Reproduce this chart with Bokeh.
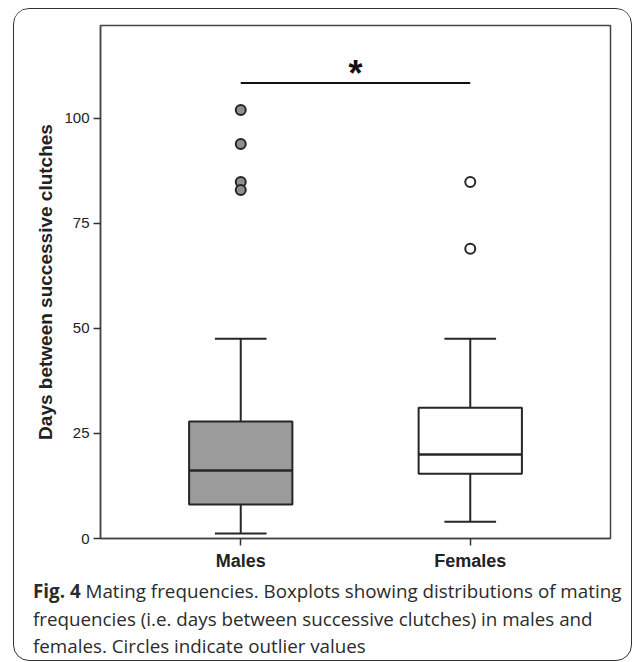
from bokeh.plotting import figure
from bokeh.layouts import column
from bokeh.models import InlineStyleSheet, Div, FixedTicker, Range1d
from bokeh.core.properties import value
from bokeh.embed import file_html
from bokeh.resources import INLINE

# ---- data ----
categories = ["Males", "Females"]
q1 = [8.1, 15.4]
median = [16.2, 20.0]
q3 = [27.8, 31.1]
lower_whisker = [1.2, 4.0]
upper_whisker = [47.5, 47.5]
outliers_males = [101.9, 93.8, 84.8, 82.9]
outliers_females = [84.8, 68.9]
y_ticks = [0, 25, 50, 75, 100]
sig_level = 108.3
sig_label = "*"
y_label = "Days between successive clutches"
caption_bold = "Fig. 4"
caption_lines = [
    "Mating frequencies. Boxplots showing distributions of mating",
    "frequencies (i.e. days between successive clutches) in males and",
    "females. Circles indicate outlier values",
]

# ---- styling ----
LINE = "#262626"
xs = [i + 1 for i in range(len(categories))]
box_w = 0.45
cap_w = 0.225

p = figure(width=616, height=564, output_backend="svg", toolbar_location=None,
           x_range=Range1d(0.389, 2.611), y_range=Range1d(0, 122),
           min_border_left=86, min_border_right=20, min_border_top=16,
           min_border_bottom=35)
p.grid.visible = False
p.outline_line_color = "#444444"
p.outline_line_width = 1.5
p.background_fill_color = "white"
p.border_fill_color = "white"

# axes
p.yaxis.ticker = FixedTicker(ticks=y_ticks)
p.xaxis.ticker = FixedTicker(ticks=xs)
p.xaxis.major_label_overrides = {x: c for x, c in zip(xs, categories)}
for ax in (p.xaxis, p.yaxis):
    ax.axis_line_color = "#444444"
    ax.axis_line_width = 1.5
    ax.major_tick_line_color = "#333333"
    ax.major_tick_line_width = 1.5
    ax.major_tick_out = 7
    ax.major_tick_in = 0
    ax.minor_tick_line_color = None
p.yaxis.major_label_text_font = "Liberation Sans"
p.yaxis.major_label_text_font_size = "15px"
p.yaxis.major_label_text_color = "#222222"
p.yaxis.major_label_standoff = 4
p.yaxis.axis_label = y_label
p.yaxis.axis_label_text_font = "Liberation Sans"
p.yaxis.axis_label_text_font_style = "bold"
p.yaxis.axis_label_text_font_size = "19px"
p.yaxis.axis_label_text_color = "#222222"
p.yaxis.axis_label_standoff = 5
p.xaxis.major_label_text_font = "Liberation Sans"
p.xaxis.major_label_text_font_style = "bold"
p.xaxis.major_label_text_font_size = "18px"
p.xaxis.major_label_text_color = "#222222"
p.xaxis.major_label_standoff = 5

# whiskers
p.segment(x0=xs, x1=xs, y0=q3, y1=upper_whisker, line_color=LINE, line_width=2)
p.segment(x0=xs, x1=xs, y0=q1, y1=lower_whisker, line_color=LINE, line_width=2)
p.segment(x0=[x - cap_w / 2 for x in xs], x1=[x + cap_w / 2 for x in xs],
          y0=upper_whisker, y1=upper_whisker, line_color=LINE, line_width=2)
p.segment(x0=[x - cap_w / 2 for x in xs], x1=[x + cap_w / 2 for x in xs],
          y0=lower_whisker, y1=lower_whisker, line_color=LINE, line_width=2)
# boxes
p.vbar(x=xs, bottom=q1, top=q3, width=box_w, fill_color=["#9b9b9b", "white"],
       line_color=LINE, line_width=2)
p.segment(x0=[x - box_w / 2 for x in xs], x1=[x + box_w / 2 for x in xs],
          y0=median, y1=median, line_color=LINE, line_width=2.5)
# outliers
p.scatter(x=[xs[0]] * len(outliers_males), y=outliers_males, size=10,
          fill_color="#8f8f8f", line_color=LINE, line_width=2)
p.scatter(x=[xs[1]] * len(outliers_females), y=outliers_females, size=10,
          fill_color="white", line_color=LINE, line_width=2)
# significance bar
p.segment(x0=[xs[0]], x1=[xs[1]], y0=[sig_level], y1=[sig_level],
          line_color="#111111", line_width=2)
p.text(x=[(xs[0] + xs[1]) / 2], y=[sig_level], text=[sig_label],
       text_font=value("Liberation Sans"), text_font_style="bold",
       text_font_size="36px", text_align="center", text_baseline="alphabetic",
       y_offset=-10, text_color="#111111")

# caption
cap_html = ("<b>%s</b> %s<br>%s<br>%s" %
            (caption_bold, caption_lines[0], caption_lines[1], caption_lines[2]))
cap = Div(text=cap_html, width=616, height=86,
          styles={"font-family": "'Open Sans', sans-serif", "font-size": "18.8px",
                  "line-height": "27.5px", "color": "#2b2b2b",
                  "padding-left": "14px", "white-space": "nowrap"})

layout = column(p, cap, width=619, height=653, spacing=0)
layout.stylesheets = [InlineStyleSheet(css=":host { margin-left: 13px; margin-top: 8px; border: 1.5px solid #333; border-radius: 16px; overflow: hidden; box-sizing: border-box; }")]

open("out.html", "w").write(file_html(layout, INLINE))
